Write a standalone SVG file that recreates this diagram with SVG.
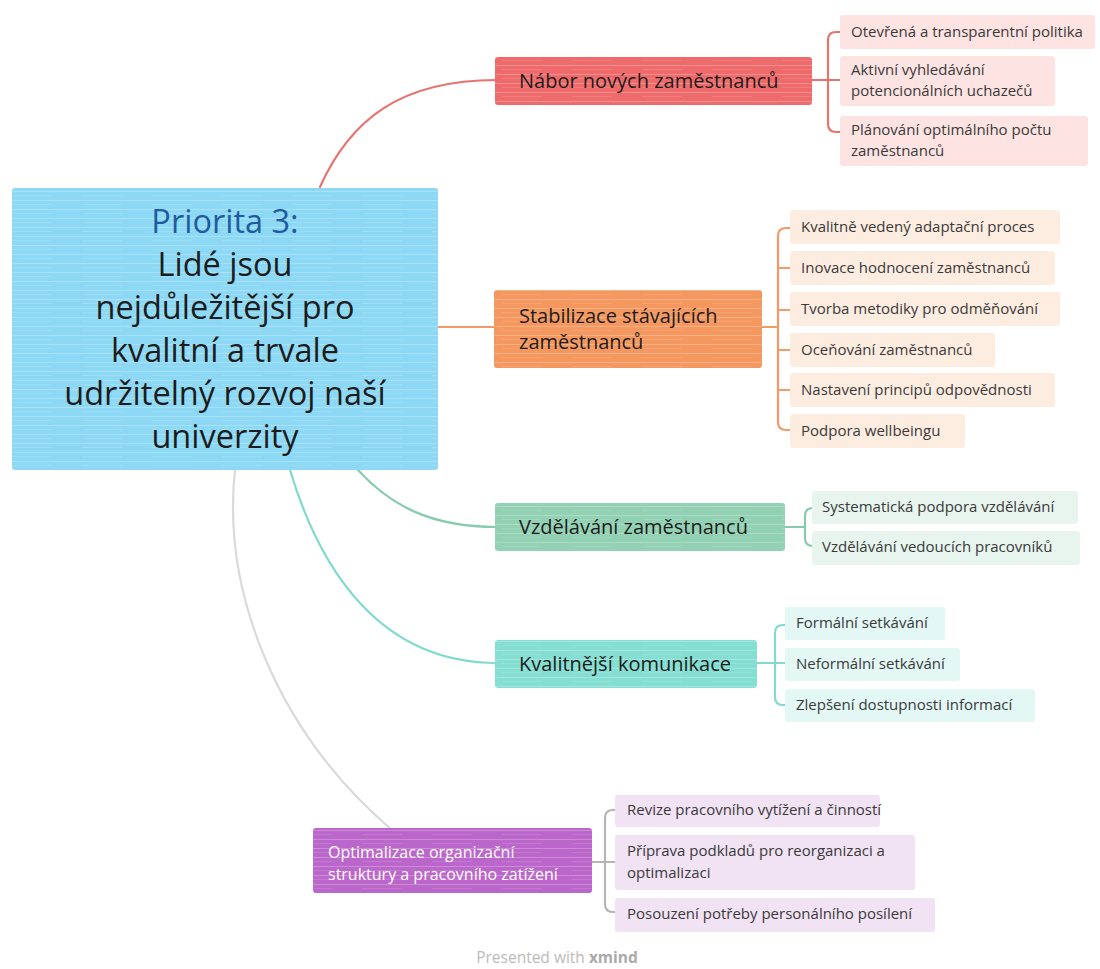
<svg xmlns="http://www.w3.org/2000/svg" width="1100" height="969" viewBox="0 0 1100 969">
<style>
text{font-family:"Open Sans","Noto Sans","DejaVu Sans",sans-serif}
.c{font-size:32.5px;fill:#1c1c1c;text-anchor:middle}
.b{font-size:20px;fill:#1c1c1c}
.s{font-size:15px;fill:#3a3a3a}
.w{font-size:16px;fill:#ffffff}
.ln{fill:none;stroke-width:2.2;stroke-linecap:round}
.streak{fill:url(#streaks)}
</style>
<defs>
<pattern id="streaks" patternUnits="userSpaceOnUse" width="70" height="9">
<rect x="0" y="2" width="70" height="0.8" fill="#ffffff" opacity="0.3"/>
<rect x="12" y="6" width="40" height="0.6" fill="#ffffff" opacity="0.2"/>
</pattern>
</defs>
<rect width="1100" height="969" fill="#ffffff"/>
<g id="connectors">
<path class="ln" stroke="#E8726E" d="M320 187 C350 120 400 80 497 80"/>
<path class="ln" stroke="#F29A68" d="M438 327 H496"/>
<path class="ln" stroke="#86CBAE" d="M358 470 C390 505 430 527 497 527"/>
<path class="ln" stroke="#82DACE" d="M290 470 C320 570 380 663 497 663"/>
<path class="ln" stroke="#DADADA" d="M235 470 C222 590 275 730 392 830"/>
<path class="ln" stroke="#E8726E" d="M812 80 H828 M842 32 H836 Q828 32 828 40 V124 Q828 132 836 132 H842 M828 80 H842"/>
<path class="ln" stroke="#F29A68" d="M762 327 H778 M790 228 H786 Q778 228 778 236 V422 Q778 430 786 430 H790 M778 268 H790 M778 310 H790 M778 350 H790 M778 390 H790"/>
<path class="ln" stroke="#86CBAE" d="M785 527 H805 M815 508 H813 Q805 508 805 516 V538 Q805 546 813 546 H815"/>
<path class="ln" stroke="#82DACE" d="M757 663 H775 M785 625 H783 Q775 625 775 633 V697 Q775 705 783 705 H785 M775 663 H785"/>
<path class="ln" stroke="#B5B5B5" d="M592 862 H605 M615 810 H613 Q605 810 605 818 V904 Q605 912 613 912 H615 M605 862 H615"/>
</g>
<g id="central">
<rect x="12" y="188" width="426" height="282" rx="3" fill="#8DD9F5"/>
<rect x="12" y="188" width="426" height="282" class="streak"/>
<text class="c" x="225" y="233" style="fill:#1F5C9E">Priorita 3:</text>
<text class="c" x="225" y="276">Lidé jsou</text>
<text class="c" x="225" y="319">nejdůležitější pro</text>
<text class="c" x="225" y="362">kvalitní a trvale</text>
<text class="c" x="225" y="405">udržitelný rozvoj naší</text>
<text class="c" x="225" y="448">univerzity</text>
</g>
<g id="b1">
<rect x="495" y="57" width="317" height="48" rx="3" fill="#EF6B6B"/>
<rect x="495" y="57" width="317" height="48" class="streak"/>
<text class="b" x="519" y="88">Nábor nových zaměstnanců</text>
</g>
<g id="b1s1"><rect x="840" y="15" width="255" height="34" rx="3" fill="#FDE3E2"/><text class="s" x="851" y="37">Otevřená a transparentní politika</text></g>
<g id="b1s2"><rect x="840" y="56" width="215" height="50" rx="3" fill="#FDE3E2"/><text class="s" x="851" y="75">Aktivní vyhledávání</text><text class="s" x="851" y="96">potencionálních uchazečů</text></g>
<g id="b1s3"><rect x="840" y="116" width="248" height="50" rx="3" fill="#FDE3E2"/><text class="s" x="851" y="135">Plánování optimálního počtu</text><text class="s" x="851" y="156">zaměstnanců</text></g>
<g id="b2">
<rect x="494" y="290" width="268" height="78" rx="3" fill="#F5985F"/>
<rect x="494" y="290" width="268" height="78" class="streak"/>
<text class="b" x="519" y="323">Stabilizace stávajících</text>
<text class="b" x="519" y="349">zaměstnanců</text>
</g>
<g id="b2s1"><rect x="790" y="210" width="270" height="34" rx="3" fill="#FDEDE1"/><text class="s" x="801" y="232">Kvalitně vedený adaptační proces</text></g>
<g id="b2s2"><rect x="790" y="251" width="265" height="34" rx="3" fill="#FDEDE1"/><text class="s" x="801" y="273">Inovace hodnocení zaměstnanců</text></g>
<g id="b2s3"><rect x="790" y="292" width="270" height="34" rx="3" fill="#FDEDE1"/><text class="s" x="801" y="314">Tvorba metodiky pro odměňování</text></g>
<g id="b2s4"><rect x="790" y="333" width="205" height="34" rx="3" fill="#FDEDE1"/><text class="s" x="801" y="355">Oceňování zaměstnanců</text></g>
<g id="b2s5"><rect x="790" y="373" width="265" height="34" rx="3" fill="#FDEDE1"/><text class="s" x="801" y="395">Nastavení principů odpovědnosti</text></g>
<g id="b2s6"><rect x="790" y="414" width="175" height="34" rx="3" fill="#FDEDE1"/><text class="s" x="801" y="436">Podpora wellbeingu</text></g>
<g id="b3">
<rect x="495" y="503" width="290" height="48" rx="3" fill="#92D1B3"/>
<rect x="495" y="503" width="290" height="48" class="streak"/>
<text class="b" x="519" y="534">Vzdělávání zaměstnanců</text>
</g>
<g id="b3s1"><rect x="812" y="491" width="266" height="33" rx="3" fill="#E7F5EE"/><text class="s" x="822" y="512">Systematická podpora vzdělávání</text></g>
<g id="b3s2"><rect x="812" y="531" width="268" height="34" rx="3" fill="#E7F5EE"/><text class="s" x="822" y="552">Vzdělávání vedoucích pracovníků</text></g>
<g id="b4">
<rect x="495" y="640" width="262" height="48" rx="3" fill="#84DED2"/>
<rect x="495" y="640" width="262" height="48" class="streak"/>
<text class="b" x="519" y="671">Kvalitnější komunikace</text>
</g>
<g id="b4s1"><rect x="785" y="607" width="160" height="33" rx="3" fill="#E3F7F4"/><text class="s" x="796" y="628">Formální setkávání</text></g>
<g id="b4s2"><rect x="785" y="648" width="175" height="33" rx="3" fill="#E3F7F4"/><text class="s" x="796" y="669">Neformální setkávání</text></g>
<g id="b4s3"><rect x="785" y="689" width="250" height="33" rx="3" fill="#E3F7F4"/><text class="s" x="796" y="710">Zlepšení dostupnosti informací</text></g>
<g id="b5">
<rect x="313" y="828" width="279" height="65" rx="3" fill="#BA66CA"/>
<rect x="313" y="828" width="279" height="65" class="streak"/>
<text class="w" x="328" y="858">Optimalizace organizační</text>
<text class="w" x="328" y="880">struktury a pracovního zatížení</text>
</g>
<g id="b5s1"><rect x="615" y="795" width="265" height="32" rx="3" fill="#F1E2F4"/><text class="s" x="627" y="815">Revize pracovního vytížení a činností</text></g>
<g id="b5s2"><rect x="615" y="835" width="300" height="55" rx="3" fill="#F1E2F4"/><text class="s" x="627" y="856">Příprava podkladů pro reorganizaci a</text><text class="s" x="627" y="878">optimalizaci</text></g>
<g id="b5s3"><rect x="615" y="898" width="320" height="34" rx="3" fill="#F1E2F4"/><text class="s" x="627" y="919">Posouzení potřeby personálního posílení</text></g>
<g id="footer">
<text x="557" y="963" text-anchor="middle" style="font-size:15.5px;fill:#BBBBBB">Presented with <tspan style="font-weight:bold;fill:#AAAAAA">xmind</tspan></text>
</g>
</svg>
